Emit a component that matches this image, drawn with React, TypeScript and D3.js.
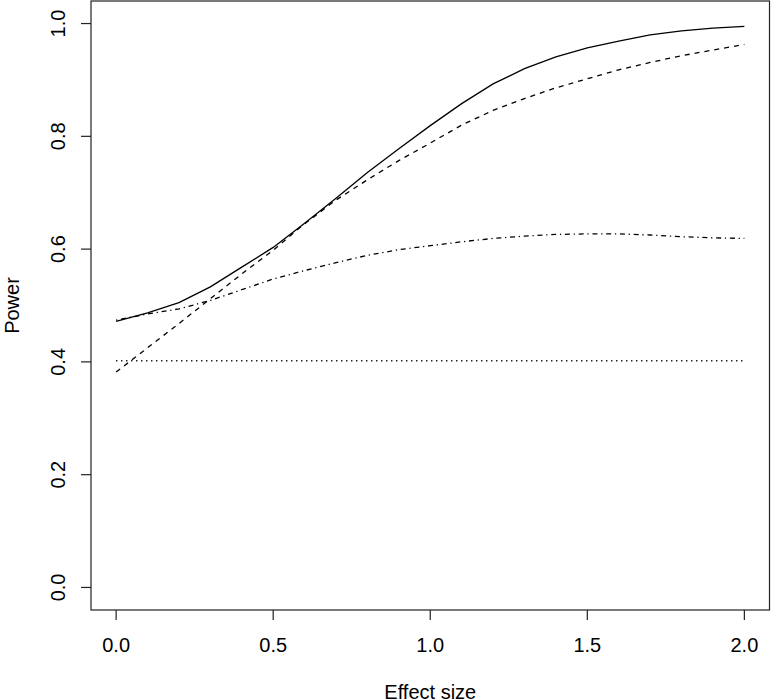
import React from "react";
import * as d3 from "d3";

const effectSizes = [0.0, 0.1, 0.2, 0.3, 0.4, 0.5, 0.6, 0.7, 0.8, 0.9, 1.0, 1.1, 1.2, 1.3, 1.4, 1.5, 1.6, 1.7, 1.8, 1.9, 2.0];
const powerSolid = [0.472, 0.487, 0.505, 0.533, 0.568, 0.603, 0.646, 0.690, 0.736, 0.778, 0.819, 0.858, 0.893, 0.920, 0.941, 0.957, 0.969, 0.980, 0.987, 0.992, 0.995];
const powerDashed = [0.382, 0.425, 0.468, 0.512, 0.556, 0.598, 0.645, 0.687, 0.723, 0.757, 0.788, 0.820, 0.846, 0.867, 0.886, 0.902, 0.918, 0.931, 0.943, 0.953, 0.963];
const powerDotDash = [0.474, 0.485, 0.494, 0.509, 0.528, 0.547, 0.562, 0.576, 0.589, 0.599, 0.606, 0.613, 0.619, 0.623, 0.626, 0.627, 0.627, 0.625, 0.622, 0.620, 0.619];
const powerDotted = [0.402, 0.402, 0.402, 0.402, 0.402, 0.402, 0.402, 0.402, 0.402, 0.402, 0.402, 0.402, 0.402, 0.402, 0.402, 0.402, 0.402, 0.402, 0.402, 0.402, 0.402];
const xTicks = [0, 0.5, 1.0, 1.5, 2.0];
const yTicks = [0, 0.2, 0.4, 0.6, 0.8, 1.0];
const xLabel = "Effect size";
const yLabel = "Power";

const W = 771;
const H = 700;
const left = 91;
const right = 769.5;
const top = 1;
const bottom = 610;
const font = "'Liberation Sans', Arial, Helvetica, sans-serif";
const fs = 20;
const lineH = 23.5;

export default function App() {
  const x = d3.scaleLinear().domain([-0.08, 2.08]).range([left, right]);
  const y = d3.scaleLinear().domain([-0.04, 1.04]).range([bottom, top]);
  const line = d3
    .line<number>()
    .x((_, i) => x(effectSizes[i]))
    .y((d) => y(d));

  const series = [
    { vals: powerSolid, dash: "none" },
    { vals: powerDashed, dash: "5 5" },
    { vals: powerDotDash, dash: "1.25 3.75 5 3.75" },
    { vals: powerDotted, dash: "1.25 3.75" },
  ];

  return (
    <svg
      width={W}
      height={H}
      style={{ position: "absolute", left: 0, top: 0, background: "#fff" }}
      fontFamily={font}
    >
      <rect x={0} y={0} width={W} height={H} fill="#fff" />
      {series.map((s, k) => (
        <path
          key={k}
          d={line(s.vals) || ""}
          fill="none"
          stroke="#000"
          strokeWidth={1.3}
          strokeDasharray={s.dash}
        />
      ))}
      <rect
        x={left}
        y={top}
        width={right - left}
        height={bottom - top}
        fill="none"
        stroke="#222"
        strokeWidth={1.2}
      />
      {xTicks.map((t) => (
        <g key={"x" + t}>
          <line x1={x(t)} x2={x(t)} y1={bottom} y2={bottom + 10} stroke="#222" strokeWidth={1.2} />
          <text x={x(t)} y={bottom + 1.77 * lineH} textAnchor="middle" fontSize={fs} fill="#000">
            {d3.format(".1f")(t)}
          </text>
        </g>
      ))}
      {yTicks.map((t) => (
        <g key={"y" + t}>
          <line x1={left - 10} x2={left} y1={y(t)} y2={y(t)} stroke="#222" strokeWidth={1.2} />
          <text
            transform={`translate(${left - lineH - 3},${y(t)}) rotate(-90)`}
            textAnchor="middle"
            fontSize={fs}
            fill="#000"
          >
            {d3.format(".1f")(t)}
          </text>
        </g>
      ))}
      <text x={(left + right) / 2} y={bottom + 3.77 * lineH} textAnchor="middle" fontSize={fs} fill="#000">
        {xLabel}
      </text>
      <text
        transform={`translate(${left - 3 * lineH - 2},${(top + bottom) / 2}) rotate(-90)`}
        textAnchor="middle"
        fontSize={fs}
        fill="#000"
      >
        {yLabel}
      </text>
    </svg>
  );
}
